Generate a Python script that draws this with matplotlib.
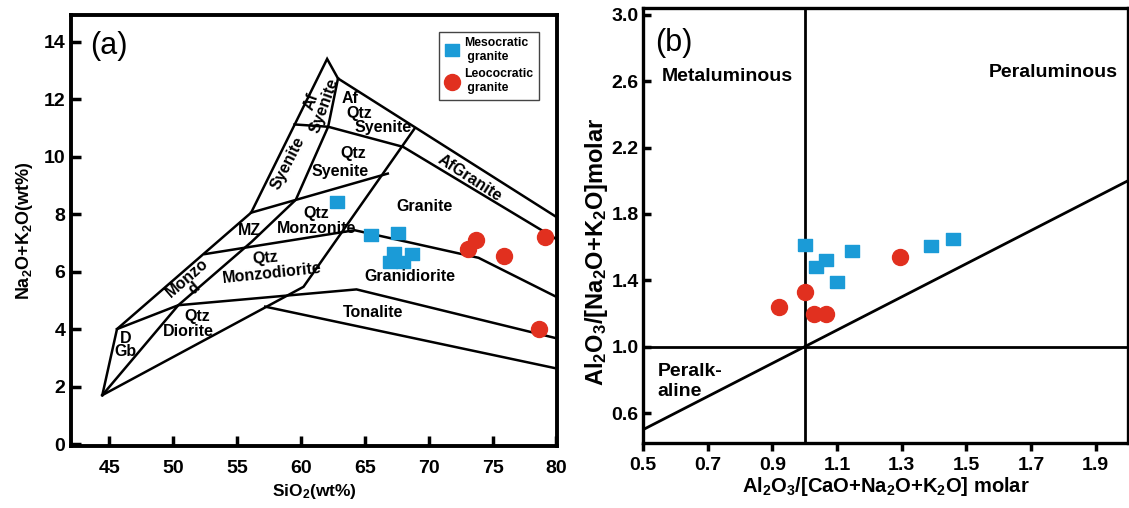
"""
TAS (Middlemost) and A/NK vs A/CNK diagrams for the granite samples.
Writes out.png
"""

import matplotlib
matplotlib.use("Agg")
import matplotlib.pyplot as plt

plt.rcParams["font.family"] = ["Liberation Sans", "DejaVu Sans"]
plt.rcParams["mathtext.default"] = "regular"

# ---------------------------------------------------------------------------
# Data
# ---------------------------------------------------------------------------

# (a) SiO2 vs Na2O+K2O
sio2_meso = [62.8, 65.5, 67.6, 67.3, 68.7, 67.0, 68.0]
alk_meso = [8.41, 7.29, 7.33, 6.63, 6.61, 6.32, 6.34]
sio2_leuco = [73.7, 73.1, 75.9, 79.1, 78.6]
alk_leuco = [7.10, 6.77, 6.54, 7.21, 3.99]

# (b) A/CNK vs A/NK
acnk_meso = [1.00, 1.035, 1.065, 1.10, 1.145, 1.39, 1.46]
ank_meso = [1.61, 1.48, 1.52, 1.39, 1.575, 1.605, 1.65]
acnk_leuco = [0.92, 1.00, 1.03, 1.065, 1.295]
ank_leuco = [1.24, 1.33, 1.20, 1.195, 1.54]

# TAS field boundaries (SiO2, Na2O+K2O)
outer_left = [(44.45, 1.70), (45.6, 4.00), (56.1, 8.05), (62.05, 13.40),
              (62.9, 12.72), (80.0, 7.90)]
lower_granite_left = [(44.45, 1.70), (60.2, 5.47), (68.9, 10.98)]
tonalite_top = [(45.6, 4.00), (50.4, 4.83), (64.35, 5.38), (80.0, 3.68)]
dgb_right = [(44.45, 1.70), (50.4, 4.83), (56.15, 7.04), (59.6, 8.50),
             (62.13, 11.04), (62.9, 12.72)]
af_divider = [(59.5, 11.12), (62.13, 11.04), (68.0, 10.34), (80.0, 7.13)]
qtz_syenite_base = [(56.1, 8.05), (66.8, 9.41)]
granite_base = [(52.5, 6.61), (64.2, 7.44), (73.9, 6.48), (80.0, 5.12)]
tonalite_base = [(57.2, 4.78), (80.0, 2.63)]
tas_lines = [outer_left, lower_granite_left, tonalite_top, dgb_right,
             af_divider, qtz_syenite_base, granite_base, tonalite_base]

# field names: text, x, y, rotation
tas_labels = [
    ("Af\nSyenite", 61.3, 11.85, 70),
    ("Af", 63.85, 12.02, 0),
    ("Qtz", 64.6, 11.51, 0),
    ("Syenite", 66.4, 11.02, 0),
    ("Syenite", 59.0, 9.77, 63),
    ("Qtz", 64.1, 10.12, 0),
    ("Syenite", 63.05, 9.50, 0),
    ("Qtz", 61.2, 8.02, 0),
    ("Monzonite", 61.2, 7.50, 0),
    ("MZ", 56.0, 7.44, 0),
    ("Monzo", 51.07, 5.78, 41),
    ("d", 51.6, 5.40, 41),
    ("Qtz", 57.2, 6.46, 6),
    ("Monzodiorite", 57.7, 5.94, 6),
    ("Qtz", 51.85, 4.43, 0),
    ("Diorite", 51.2, 3.91, 0),
    ("D", 46.25, 3.68, 0),
    ("Gb", 46.25, 3.21, 0),
    ("Granite", 69.7, 8.28, 0),
    ("AfGranite", 73.2, 9.24, -33),
    ("Granidiorite", 68.5, 5.82, 0),
    ("Tonalite", 65.65, 4.57, 0),
]

# (b) field boundaries
acnk_line = [0.5, 2.0]
ank_line = [0.5, 2.0]

BLUE = "#1b9bd7"
RED = "#e1301f"
RECT = [(-1.25, -1.0), (1.25, -1.0), (1.25, 1.0), (-1.25, 1.0), (-1.25, -1.0)]

fig = plt.figure(figsize=(11.29, 5.08), dpi=100)

# ---------------------------------------------------------------------------
# (a) TAS
# ---------------------------------------------------------------------------
ax1 = fig.add_axes([0.0629, 0.122, 0.4305, 0.848])
for line in tas_lines:
    xs, ys = zip(*line)
    ax1.plot(xs, ys, color="black", lw=1.8, solid_joinstyle="miter", zorder=2)

for txt, x, y, rot in tas_labels:
    ax1.text(x, y, txt, ha="center", va="center", rotation=rot,
             fontsize=11.5, fontweight="bold", linespacing=0.9, zorder=3)

ax1.plot(sio2_meso, alk_meso, linestyle="none", marker=RECT, markersize=10,
         color=BLUE, label="Mesocratic\n granite", zorder=4, clip_on=False)
ax1.plot(sio2_leuco, alk_leuco, linestyle="none", marker="o", markersize=11.5,
         color=RED, label="Leococratic\n granite", zorder=4, clip_on=False)

ax1.text(43.5, 13.85, "(a)", fontsize=22, ha="left", va="center")

ax1.set_xlim(42.0, 80.05)
ax1.set_ylim(-0.07, 14.92)
ax1.set_xticks([45, 50, 55, 60, 65, 70, 75, 80])
ax1.set_yticks([0, 2, 4, 6, 8, 10, 12, 14])
ax1.tick_params(direction="in", length=7, width=2.5, labelsize=14)
ax1.tick_params(axis="x", pad=10)
ax1.tick_params(axis="y", pad=4)
for lab in ax1.get_xticklabels() + ax1.get_yticklabels():
    lab.set_fontweight("bold")
for sp in ax1.spines.values():
    sp.set_linewidth(2.8)
ax1.set_xlabel("SiO$_2$(wt%)", fontsize=12.5, fontweight="bold", labelpad=4)
ax1.set_ylabel("Na$_2$O+K$_2$O(wt%)", fontsize=13, fontweight="bold", labelpad=6)

leg = ax1.legend(loc="upper right", bbox_to_anchor=(0.975, 0.976),
                 prop={"weight": "bold", "size": 8.8}, fancybox=False,
                 framealpha=1, edgecolor="#444444", handletextpad=0.4,
                 labelspacing=0.45, borderpad=0.45, handlelength=1.2)
leg.get_frame().set_linewidth(1.0)

# ---------------------------------------------------------------------------
# (b) A/NK vs A/CNK
# ---------------------------------------------------------------------------
ax2 = fig.add_axes([0.5695, 0.128, 0.4296, 0.856])
ax2.axvline(1.0, color="black", lw=2.0, zorder=2)
ax2.axhline(1.0, color="black", lw=2.0, zorder=2)
ax2.plot(acnk_line, ank_line, color="black", lw=2.0, zorder=2)

ax2.plot(acnk_meso, ank_meso, linestyle="none", marker=RECT, markersize=10,
         color=BLUE, zorder=4)
ax2.plot(acnk_leuco, ank_leuco, linestyle="none", marker="o", markersize=11.5,
         color=RED, zorder=4)

ax2.text(0.537, 2.83, "(b)", fontsize=22, ha="left", va="center")
ax2.text(0.558, 2.63, "Metaluminous", fontsize=14, fontweight="bold",
         ha="left", va="center")
ax2.text(1.77, 2.65, "Peraluminous", fontsize=14, fontweight="bold",
         ha="center", va="center")
ax2.text(0.545, 0.79, "Peralk-\naline", fontsize=14, fontweight="bold",
         ha="left", va="center", linespacing=1.2)

ax2.set_xlim(0.5, 2.0)
ax2.set_ylim(0.42, 3.04)
ax2.set_xticks([0.5, 0.7, 0.9, 1.1, 1.3, 1.5, 1.7, 1.9])
ax2.set_yticks([0.6, 1.0, 1.4, 1.8, 2.2, 2.6, 3.0])
ax2.tick_params(axis="x", direction="out", length=6, width=2.5,
                labelsize=14, pad=4)
ax2.tick_params(axis="y", direction="in", length=6, width=2.5,
                labelsize=14, pad=3)
for lab in ax2.get_xticklabels() + ax2.get_yticklabels():
    lab.set_fontweight("bold")
for sp in ax2.spines.values():
    sp.set_linewidth(2.4)
ax2.set_xlabel("Al$_2$O$_3$/[CaO+Na$_2$O+K$_2$O] molar", fontsize=14.5,
               fontweight="bold", labelpad=1)
ax2.set_ylabel("Al$_2$O$_3$/[Na$_2$O+K$_2$O]molar", fontsize=17,
               fontweight="bold")
ax2.yaxis.set_label_coords(-0.068, 0.44)

fig.savefig("out.png", dpi=100)
plt.close(fig)
